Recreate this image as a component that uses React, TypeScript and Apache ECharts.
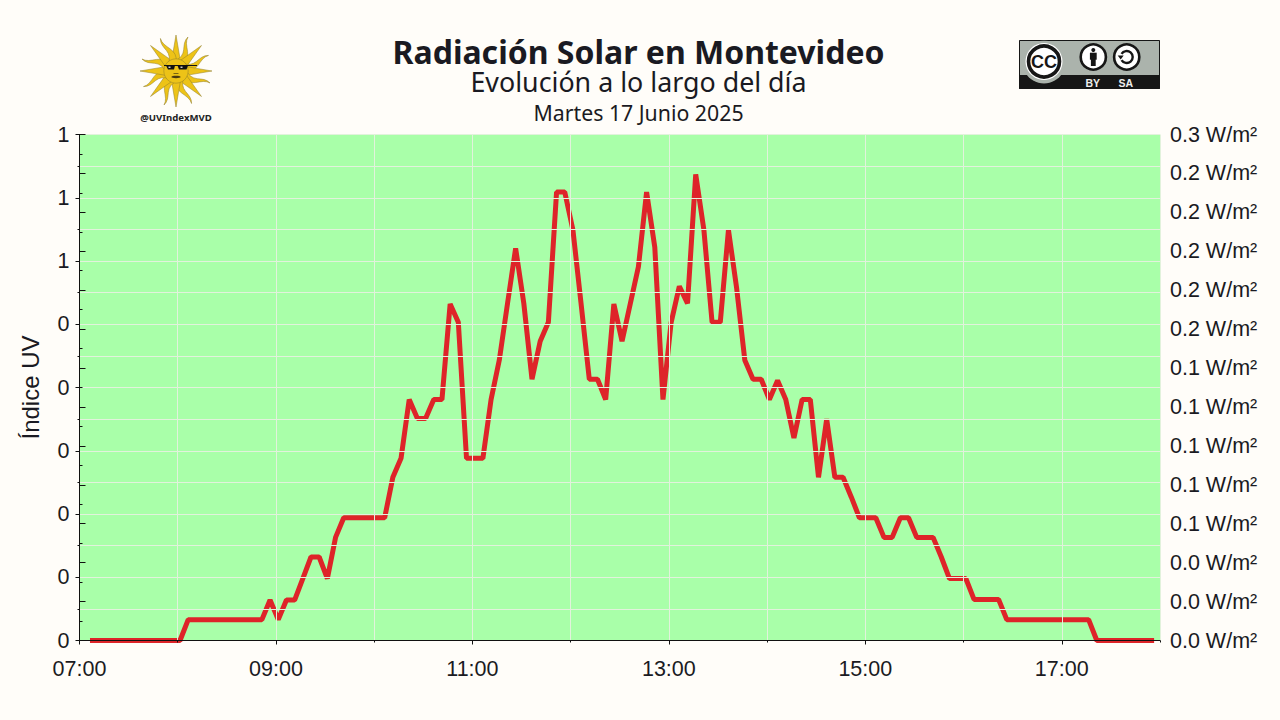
import React, { useEffect, useRef } from "react";
import * as echarts from "echarts";

const minutesSince7 = [
  6.4, 11.4, 16.4, 21.4, 26.4, 31.4, 36.4, 41.4, 46.4, 51.4,
  56.4, 61.4, 66.4, 71.4, 76.4, 81.4, 86.4, 91.4, 96.4, 101.4,
  106.4, 111.4, 116.4, 121.4, 126.4, 131.4, 136.4, 141.4, 146.4, 151.4,
  156.4, 161.4, 166.4, 171.4, 176.4, 181.4, 186.4, 191.4, 196.4, 201.4,
  206.4, 211.4, 216.4, 221.4, 226.4, 231.4, 236.4, 241.4, 246.4, 251.4,
  256.4, 261.4, 266.4, 271.4, 276.4, 281.4, 286.4, 291.4, 296.4, 301.4,
  306.4, 311.4, 316.4, 321.4, 326.4, 331.4, 336.4, 341.4, 346.4, 351.4,
  356.4, 361.4, 366.4, 371.4, 376.4, 381.4, 386.4, 391.4, 396.4, 401.4,
  406.4, 411.4, 416.4, 421.4, 426.4, 431.4, 436.4, 441.4, 446.4, 451.4,
  456.4, 461.4, 466.4, 471.4, 476.4, 481.4, 486.4, 491.4, 496.4, 501.4,
  506.4, 511.4, 516.4, 521.4, 526.4, 531.4, 536.4, 541.4, 546.4, 551.4,
  556.4, 561.4, 566.4, 571.4, 576.4, 581.4, 586.4, 591.4, 596.4, 601.4,
  606.4, 611.4, 616.4, 621.4, 626.4, 631.4, 636.4, 641.4, 646.4, 651.4,
  656.4,
];
const uvIndex = [
  0, 0, 0, 0, 0, 0, 0, 0, 0, 0,
  0, 0, 0.033, 0.033, 0.033, 0.033, 0.033, 0.033, 0.033, 0.033,
  0.033, 0.033, 0.064, 0.033, 0.064, 0.064, 0.098, 0.132, 0.132, 0.098,
  0.163, 0.194, 0.194, 0.194, 0.194, 0.194, 0.194, 0.258, 0.288, 0.381,
  0.351, 0.351, 0.381, 0.381, 0.532, 0.503, 0.288, 0.288, 0.288, 0.381,
  0.443, 0.532, 0.62, 0.533, 0.413, 0.473, 0.503, 0.709, 0.709, 0.649,
  0.532, 0.413, 0.413, 0.381, 0.532, 0.473, 0.532, 0.591, 0.709, 0.622,
  0.381, 0.503, 0.56, 0.533, 0.737, 0.649, 0.503, 0.503, 0.649, 0.557,
  0.443, 0.413, 0.413, 0.381, 0.411, 0.381, 0.32, 0.381, 0.381, 0.258,
  0.35, 0.258, 0.258, 0.227, 0.194, 0.194, 0.194, 0.163, 0.163, 0.194,
  0.194, 0.163, 0.163, 0.163, 0.132, 0.098, 0.098, 0.098, 0.065, 0.065,
  0.065, 0.065, 0.033, 0.033, 0.033, 0.033, 0.033, 0.033, 0.033, 0.033,
  0.033, 0.033, 0.033, 0, 0, 0, 0, 0, 0, 0,
  0,
];
const leftTickLabels = ["0", "0", "0", "0", "0", "0", "1", "1", "1"];
const labelledTicks = [0, 120, 240, 360, 480, 600];
const timeLabels = ["07:00", "09:00", "11:00", "13:00", "15:00", "17:00"];
const titleText = "Radiación Solar en Montevideo";
const subtitleText = "Evolución a lo largo del día";
const dateText = "Martes 17 Junio 2025";

const INK = "#1a1a22";
const BG = "#fffdf9";
const SUN = "#edc317";
const SUN_EDGE = "#8f7d2a";

function rayPoints(cx: number, cy: number, deg: number, wavy: boolean) {
  const a = (deg * Math.PI) / 180;
  const ux = Math.sin(a), uy = -Math.cos(a);
  const px = Math.cos(a), py = Math.sin(a);
  const r0 = 9, r1 = 36, w = wavy ? 4.2 : 4.6;
  const left: number[][] = [];
  const right: number[][] = [];
  const steps = wavy ? 8 : 1;
  for (let i = 0; i <= steps; i++) {
    const t = i / steps;
    const r = r0 + (r1 - r0) * t;
    const off = wavy ? 2.4 * Math.sin(t * Math.PI * 1.7) * (t < 0.1 ? 0 : 1) : 0;
    const hw = w * (1 - t);
    left.push([cx + ux * r + px * (off - hw), cy + uy * r + py * (off - hw)]);
    right.push([cx + ux * r + px * (off + hw), cy + uy * r + py * (off + hw)]);
  }
  return left.concat(right.reverse());
}

function sunLogo() {
  const cx = 176, cy = 71;
  const items: any[] = [];
  for (let i = 0; i < 16; i++) {
    items.push({
      type: "polygon",
      shape: { points: rayPoints(cx, cy, i * 22.5, i % 2 === 1) },
      style: { fill: SUN, stroke: SUN_EDGE, lineWidth: 0.5 },
    });
  }
  items.push({ type: "circle", shape: { cx, cy, r: 12.2 }, style: { fill: SUN, stroke: SUN_EDGE, lineWidth: 0.5 } });
  items.push({ type: "rect", shape: { x: 164, y: 65, width: 33, height: 1.1 }, style: { fill: "#111" } });
  items.push({ type: "polygon", shape: { points: [[166, 65.5], [175, 65.5], [174, 69.5], [168, 69.5]] }, style: { fill: "#111" } });
  items.push({ type: "polygon", shape: { points: [[177.5, 65.5], [188, 65.5], [186.5, 69.5], [179, 69.5]] }, style: { fill: "#111" } });
  items.push({ type: "rect", shape: { x: 168.5, y: 66.5, width: 2, height: 1.5 }, style: { fill: "#ccc" } });
  items.push({ type: "rect", shape: { x: 180.5, y: 66.5, width: 2, height: 1.5 }, style: { fill: "#ccc" } });
  items.push({ type: "line", shape: { x1: 173.5, y1: 73.5, x2: 178.5, y2: 73.5 }, style: { stroke: "#5a4a10", lineWidth: 0.8 } });
  items.push({ type: "ellipse", shape: { cx: 176, cy: 77, rx: 4.6, ry: 1.2 }, style: { fill: "#4a3a10" } });
  items.push({
    type: "text", x: 176, y: 117.5,
    style: { text: "@UVIndexMVD", fontFamily: "Noto Sans", fontWeight: "bold", fontSize: 9.6, fill: "#222", textAlign: "center", textVerticalAlign: "middle" },
  });
  return { type: "group", children: items };
}

function ccBadge() {
  const gray = "#abb3ac", dark = "#161616";
  const by = 1093.3, sa = 1126.7, iy = 57;
  const items: any[] = [
    { type: "rect", shape: { x: 1019.5, y: 40.5, width: 140, height: 48 }, style: { fill: gray, stroke: dark, lineWidth: 1 } },
    { type: "rect", shape: { x: 1019.5, y: 75.5, width: 140, height: 13 }, style: { fill: dark, stroke: dark, lineWidth: 1 } },
    { type: "circle", shape: { cx: 1044, cy: 62, r: 21.5 }, style: { fill: gray } },
    { type: "rect", shape: { x: 1019.5, y: 40.5, width: 140, height: 0.6 }, style: { fill: dark } },
    { type: "circle", shape: { cx: 1044, cy: 61.5, r: 18.5 }, style: { fill: "#fff" } },
    { type: "circle", shape: { cx: 1044, cy: 61.5, r: 15.5 }, style: { fill: "#fff", stroke: dark, lineWidth: 3.6 } },
    { type: "text", x: 1044, y: 62, style: { text: "CC", fontFamily: "Liberation Sans", fontWeight: "bold", fontSize: 18, fill: dark, textAlign: "center", textVerticalAlign: "middle" } },
    { type: "circle", shape: { cx: by, cy: iy, r: 12.6 }, style: { fill: "#fff", stroke: dark, lineWidth: 2.6 } },
    { type: "circle", shape: { cx: by, cy: 50, r: 2 }, style: { fill: dark } },
    { type: "rect", shape: { x: by - 3.4, y: 52.7, width: 6.8, height: 7 }, style: { fill: dark } },
    { type: "rect", shape: { x: by - 2.4, y: 59, width: 4.8, height: 7 }, style: { fill: dark } },
    { type: "circle", shape: { cx: sa, cy: iy, r: 12.6 }, style: { fill: "#fff", stroke: dark, lineWidth: 2.6 } },
    { type: "arc", shape: { cx: sa, cy: iy, r: 6, startAngle: -2.6, endAngle: 2.6, clockwise: true }, style: { stroke: dark, fill: "none", lineWidth: 2.4 } },
    { type: "polygon", shape: { points: [[sa - 9, iy - 1.5], [sa - 3, iy - 1.5], [sa - 6, iy + 2.5]] }, style: { fill: dark } },
    { type: "text", x: by - 0.5, y: 82.5, style: { text: "BY", fontFamily: "Liberation Sans", fontWeight: "bold", fontSize: 10.5, fill: "#eee", textAlign: "center", textVerticalAlign: "middle" } },
    { type: "text", x: sa - 1, y: 82.5, style: { text: "SA", fontFamily: "Liberation Sans", fontWeight: "bold", fontSize: 10.5, fill: "#eee", textAlign: "center", textVerticalAlign: "middle" } },
  ];
  return { type: "group", children: items };
}

export default function App() {
  const ref = useRef<HTMLDivElement>(null);
  useEffect(() => {
    document.body.style.margin = "0";
    const chart = echarts.init(ref.current!, undefined, { renderer: "svg", width: 1280, height: 720 });
    const gridLine = { color: "#e2f2dc", width: 1 };
    const axisLine = { show: true, lineStyle: { color: "#111", width: 1 } };
    const labelFont = { fontFamily: "Liberation Sans", fontSize: 21.5, color: INK };
    chart.setOption({
      animation: false,
      backgroundColor: BG,
      textStyle: { fontFamily: "Liberation Sans" },
      title: [
        { text: titleText, left: 633.5, top: 30, textAlign: "center", textStyle: { fontFamily: "Noto Sans", fontWeight: "bold", fontSize: 32, lineHeight: 32, color: INK } },
        { text: subtitleText, left: 633.5, top: 62.5, textAlign: "center", textStyle: { fontFamily: "Noto Sans", fontWeight: "normal", fontSize: 26.8, lineHeight: 27, color: INK } },
        { text: dateText, left: 633.5, top: 96.5, textAlign: "center", textStyle: { fontFamily: "Noto Sans", fontWeight: "normal", fontSize: 21.3, lineHeight: 21, color: INK } },
      ],
      grid: { left: 79.5, right: 120, top: 134.5, bottom: 79.5, show: true, backgroundColor: "#a9ffa9", borderWidth: 0 },
      xAxis: [
        {
          type: "value", min: 0, max: 660, interval: 60, z: 5, offset: 1,
          axisLine,
          axisTick: { show: true, length: 2, lineStyle: { color: "#111" } },
          axisLabel: {
            ...labelFont, margin: 16,
            customValues: labelledTicks,
            formatter: (v: number) => timeLabels[labelledTicks.indexOf(v)] ?? "",
          },
          splitLine: { show: true, lineStyle: gridLine },
          minorSplitLine: { show: false },
        },
        {
          type: "value", min: 0, max: 660, position: "bottom", z: 5, offset: 1,
          axisLine: { show: false },
          axisTick: { show: true, length: 4, customValues: labelledTicks, lineStyle: { color: "#111" } },
          axisLabel: { show: false },
          splitLine: { show: false },
        },
      ],
      yAxis: [
        {
          type: "value", min: 0, max: 0.8, interval: 0.1, position: "left", z: 5,
          name: "Índice UV", nameLocation: "middle", nameGap: 37, nameRotate: 90,
          nameTextStyle: { fontFamily: "Liberation Sans", fontSize: 24, color: INK },
          axisLine,
          axisTick: { show: true, length: 4, lineStyle: { color: "#111" } },
          minorTick: { show: true, splitNumber: 2, length: 2, lineStyle: { color: "#111" } },
          axisLabel: {
            ...labelFont, margin: 10,
            formatter: (v: number) => leftTickLabels[Math.round(v * 10)] ?? "",
          },
          splitLine: { show: true, lineStyle: gridLine },
          minorSplitLine: { show: true, lineStyle: gridLine },
        },
        {
          type: "value", min: 0, max: 0.26, interval: 0.02, position: "right", z: 5,
          axisLine,
          axisTick: { show: true, length: 6, lineStyle: { color: "#111" } },
          minorTick: { show: true, splitNumber: 2, length: 3, lineStyle: { color: "#111" } },
          axisLabel: {
            ...labelFont, margin: 10,
            formatter: (v: number) => v.toFixed(1) + " W/m²",
          },
          splitLine: { show: false },
        },
      ],
      series: [
        {
          type: "line", xAxisIndex: 0, yAxisIndex: 0, z: 2, clip: false,
          showSymbol: false, symbol: "none",
          data: minutesSince7.map((t, i) => [t, uvIndex[i]]),
          lineStyle: { color: "#de2429", width: 5, join: "bevel", cap: "butt" },
        },
      ],
      graphic: { elements: [sunLogo(), ccBadge()] },
    });
    return () => chart.dispose();
  }, []);
  return <div ref={ref} style={{ position: "absolute", left: 0, top: 0, width: 1280, height: 720 }} />;
}
